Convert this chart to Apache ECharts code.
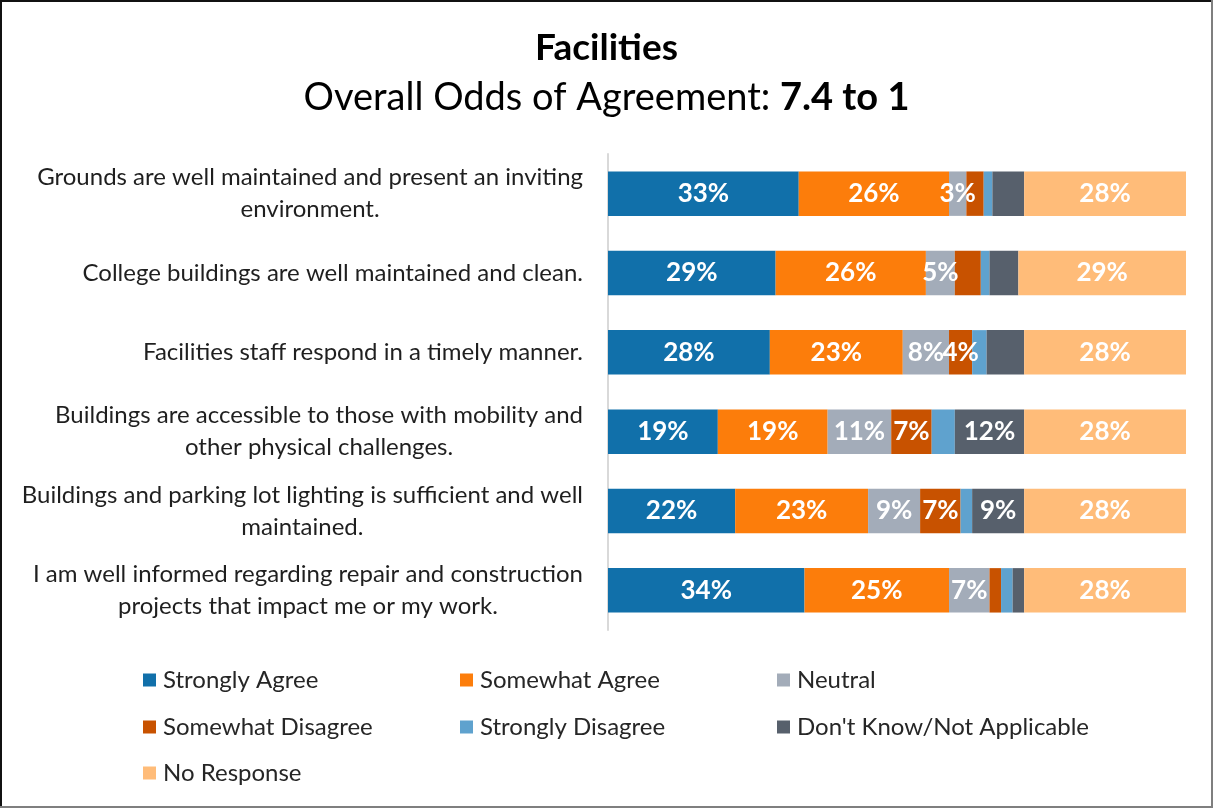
<!DOCTYPE html>
<html>
<head>
<meta charset="utf-8">
<title>Facilities</title>
<script src="https://cdn.jsdelivr.net/npm/echarts@6/dist/echarts.min.js"></script>
<style>
  html, body { margin: 0; padding: 0; background: #ffffff; }
  #chart { width: 1213px; height: 808px; }
</style>
</head>
<body>
<div id="chart"></div>
<script>
// Survey statements, top to bottom
const categories = [
  'Grounds are well maintained and present an inviting\nenvironment.',
  'College buildings are well maintained and clean.',
  'Facilities staff respond in a timely manner.',
  'Buildings are accessible to those with mobility and\nother physical challenges.',
  'Buildings and parking lot lighting is sufficient and well\nmaintained.',
  'I am well informed regarding repair and construction\nprojects that impact me or my work.'
];

// Response shares (%) per statement
const stronglyAgree    = [33, 29, 28, 19, 22, 34];
const somewhatAgree    = [26, 26, 23, 19, 23, 25];
const neutral          = [3, 5, 8, 11, 9, 7];
const somewhatDisagree = [3, 4.5, 4, 7, 7, 2];
const stronglyDisagree = [1.5, 1.5, 2.5, 4, 2, 2];
const dontKnow         = [5.5, 5, 6.5, 12, 9, 2];
const noResponse       = [28, 29, 28, 28, 28, 28];

// Which segments carry a printed percentage
const allLabelled              = [true, true, true, true, true, true];
const somewhatDisagreeLabelled = [false, false, true, true, true, false];
const stronglyDisagreeLabelled = [false, false, false, false, false, false];
const dontKnowLabelled         = [false, false, false, true, true, false];

const seriesNames = ['Strongly Agree', 'Somewhat Agree', 'Neutral', 'Somewhat Disagree',
                     'Strongly Disagree', "Don't Know/Not Applicable", 'No Response'];
const seriesColors = ['#1170aa', '#fc7d0b', '#a3acb9', '#c85200', '#5fa2ce', '#57606c', '#ffbc79'];
const seriesValues = [stronglyAgree, somewhatAgree, neutral, somewhatDisagree,
                      stronglyDisagree, dontKnow, noResponse];
const seriesLabelled = [allLabelled, allLabelled, allLabelled, somewhatDisagreeLabelled,
                        stronglyDisagreeLabelled, dontKnowLabelled, allLabelled];

const FONT = 'Lato, "Open Sans", sans-serif';

const series = seriesNames.map(function (name, i) {
  return {
    name: name,
    type: 'bar',
    stack: 'total',
    barCategoryGap: '44%',
    itemStyle: { color: seriesColors[i] },
    emphasis: { disabled: true },
    data: seriesValues[i].map(function (v, r) {
      return { value: v, label: { show: seriesLabelled[i][r] } };
    }),
    label: {
      position: 'inside',
      color: '#ffffff',
      fontFamily: FONT,
      fontSize: 26,
      fontWeight: 'bold',
      formatter: function (p) { return p.value + '%'; }
    }
  };
});

// Legend laid out in three columns
const legendCols = [143, 460, 777];
const legendRows = [668, 715, 761];
const legends = seriesNames.map(function (name, i) {
  return {
    data: [name],
    left: legendCols[i % 3],
    top: legendRows[Math.floor(i / 3)],
    padding: 0,
    icon: 'rect',
    itemWidth: 13,
    itemHeight: 13,
    selectedMode: false,
    textStyle: { fontFamily: FONT, fontSize: 24, color: '#262626', padding: [0, 0, 0, 2] }
  };
});

const chart = echarts.init(document.getElementById('chart'), null, { renderer: 'canvas' });

chart.setOption({
  backgroundColor: '#ffffff',
  animation: false,
  title: [
    {
      text: 'Facilities',
      left: 'center',
      top: 30,
      padding: 0,
      textStyle: { fontFamily: FONT, fontSize: 37, fontWeight: 'bold', color: '#000000' }
    },
    {
      text: '{n|Overall Odds of Agreement: }{b|7.4 to 1}',
      left: 'center',
      top: 79,
      padding: 0,
      textStyle: {
        fontWeight: 'normal',
        rich: {
          n: { fontFamily: FONT, fontSize: 38, fontWeight: 'normal', color: '#000000' },
          b: { fontFamily: FONT, fontSize: 38, fontWeight: 'bold', color: '#000000' }
        }
      }
    }
  ],
  legend: legends,
  grid: { left: 608, right: 27, top: 154, bottom: 178, containLabel: false },
  xAxis: {
    type: 'value',
    min: 0,
    max: 100,
    show: false
  },
  yAxis: {
    type: 'category',
    inverse: true,
    data: categories,
    axisLine: { show: true, lineStyle: { color: '#d9d9d9', width: 2 } },
    axisTick: { show: false },
    axisLabel: {
      margin: 25,
      align: 'right',
      formatter: function (v) {
        return v.split('\n').map(function (line) { return '{c|' + line + '}'; }).join('\n');
      },
      rich: {
        c: { align: 'center', fontFamily: FONT, fontSize: 24, color: '#1f1f1f', lineHeight: 32 }
      }
    }
  },
  series: series,
  graphic: [
    { type: 'line', shape: { x1: 1, y1: 0, x2: 1, y2: 808 }, style: { stroke: '#111111', lineWidth: 2 }, silent: true },
    { type: 'line', shape: { x1: 0, y1: 1, x2: 1213, y2: 1 }, style: { stroke: '#111111', lineWidth: 2 }, silent: true },
    { type: 'line', shape: { x1: 1212, y1: 0, x2: 1212, y2: 808 }, style: { stroke: '#7f7f7f', lineWidth: 2 }, silent: true },
    { type: 'line', shape: { x1: 0, y1: 807, x2: 1213, y2: 807 }, style: { stroke: '#7f7f7f', lineWidth: 2 }, silent: true }
  ]
});
</script>
</body>
</html>
